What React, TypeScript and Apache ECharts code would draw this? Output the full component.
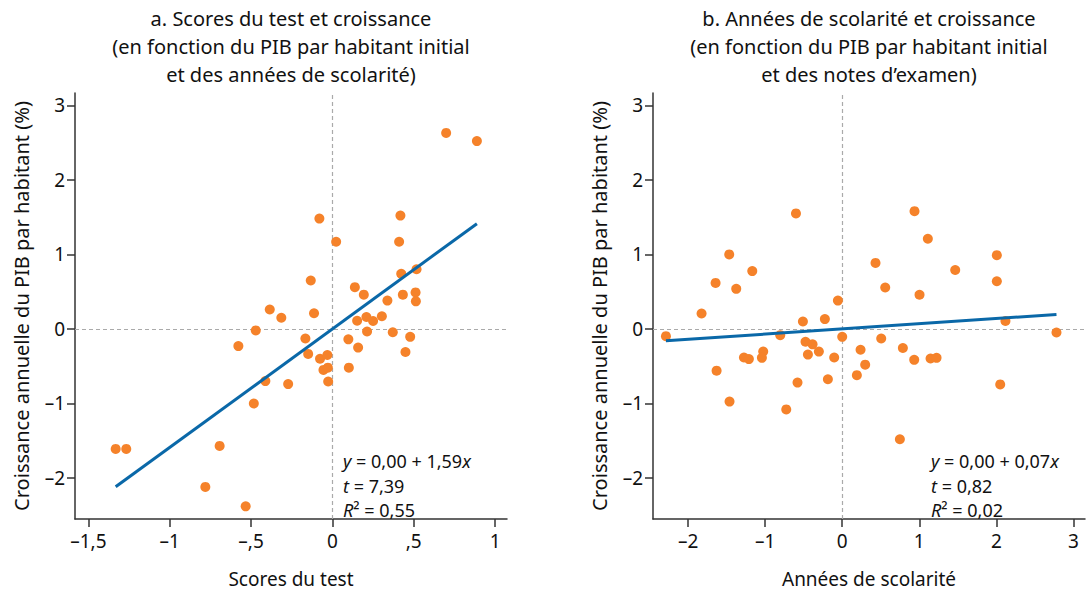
import React, { useEffect, useRef } from "react";
import * as echarts from "echarts";

// Panel a: test scores vs growth
const scoresX = [0.699, 0.888, -0.08, 0.418, 0.023, 0.41, 0.517, 0.423, -0.133, 0.138, 0.193, 0.511, 0.433, 0.513, 0.338, -0.385, -0.314, -0.113, 0.209, 0.152, 0.25, 0.304, -0.471, 0.213, 0.371, 0.478, -0.578, -0.166, 0.098, 0.158, 0.449, -0.149, -0.076, -0.031, -0.055, -0.028, 0.101, -0.026, -0.412, -0.272, -0.483, -1.332, -1.267, -0.693, -0.781, -0.533];
const scoresY = [2.63, 2.52, 1.48, 1.52, 1.17, 1.17, 0.8, 0.74, 0.65, 0.56, 0.46, 0.49, 0.46, 0.37, 0.38, 0.26, 0.15, 0.21, 0.16, 0.11, 0.106, 0.17, -0.02, -0.035, -0.045, -0.106, -0.23, -0.128, -0.14, -0.25, -0.31, -0.335, -0.4, -0.35, -0.55, -0.52, -0.52, -0.705, -0.7, -0.74, -1.0, -1.61, -1.61, -1.57, -2.12, -2.38];

// Panel b: years of schooling vs growth
const schoolX = [-0.6, 0.938, 1.111, -1.466, 2.006, 0.432, -1.167, 1.466, -1.643, -1.375, 0.558, 2.006, 1.003, -0.056, -1.825, -0.51, -0.225, 2.118, -2.287, -0.804, 0.0, 0.506, 2.78, -0.476, -0.385, 0.238, 0.787, -1.025, -0.303, -0.445, -1.275, -1.211, -1.042, -0.104, 0.934, 1.146, 1.224, 0.298, -1.63, 0.19, -0.186, -0.58, 2.05, -1.462, -0.726, 0.748];
const schoolY = [1.55, 1.58, 1.21, 1.0, 0.99, 0.886, 0.776, 0.79, 0.617, 0.538, 0.556, 0.64, 0.459, 0.38, 0.207, 0.1, 0.132, 0.106, -0.097, -0.084, -0.106, -0.128, -0.048, -0.172, -0.207, -0.28, -0.256, -0.304, -0.304, -0.344, -0.384, -0.405, -0.388, -0.384, -0.415, -0.397, -0.388, -0.48, -0.56, -0.62, -0.675, -0.72, -0.745, -0.975, -1.08, -1.48];

// Regression statistics
const intercepts = [0.0, 0.0];
const slopes = [1.59, 0.07];
const tStats = [7.39, 0.82];
const r2s = [0.55, 0.02];

// Ticks
const yTicks = [-2, -1, 0, 1, 2, 3];
const xTicksA = [-1.5, -1, -0.5, 0, 0.5, 1];
const xTicksB = [-2, -1, 0, 1, 2, 3];

const titlesA = ["a. Scores du test et croissance", "(en fonction du PIB par habitant initial", "et des années de scolarité)"];
const titlesB = ["b. Années de scolarité et croissance", "(en fonction du PIB par habitant initial", "et des notes d’examen)"];
const yName = "Croissance annuelle du PIB par habitant (%)";
const xNames = ["Scores du test", "Années de scolarité"];

const ORANGE = "#f5822a";
const BLUE = "#0a68a8";
const AXIS = "#333333";
const FONT = "'Noto Sans', sans-serif";
const TITLE_FONT = "'Liberation Sans Narrow', 'Noto Sans', sans-serif";
const ANNOT_SIZE = 18;

const fmtNum = (v: number, digits: number) => v.toFixed(digits).replace(".", ",");

const fmtTick = (v: number) => {
  if (Math.abs(v) < 1e-9) return "0";
  const a = Math.abs(v);
  let s = String(Number(a.toFixed(2))).replace(".", ",");
  if (s.startsWith("0,")) s = s.slice(1);
  return (v < 0 ? "\u2013" : "") + s;
};

let measureCtx: CanvasRenderingContext2D | null = null;
const measure = (text: string, font: string) => {
  if (!measureCtx) measureCtx = document.createElement("canvas").getContext("2d");
  if (!measureCtx) return text.length * 10;
  measureCtx.font = font;
  return measureCtx.measureText(text).width;
};

export default function App() {
  const ref = useRef<HTMLDivElement>(null);

  useEffect(() => {
    if (!ref.current) return;
    const chart = echarts.init(ref.current, null, { renderer: "svg" });

    const grids = [
      { left: 75, top: 93, width: 432, height: 432 },
      { left: 653, top: 93, width: 432, height: 432 },
    ];
    const xRanges = [
      [-1.582, 1.073],
      [-2.455, 3.15],
    ];
    const xTickSets = [xTicksA, xTicksB];
    const datasets = [
      [scoresX, scoresY],
      [schoolX, schoolY],
    ];

    const axisCommon = {
      axisLine: { show: true, onZero: false, lineStyle: { color: AXIS, width: 1.5 } },
      axisTick: { show: true, inside: false, length: 8, lineStyle: { color: AXIS, width: 1.5 } },
      splitLine: { show: false },
    };

    const xAxis = [0, 1].map((i) => ({
      type: "value",
      gridIndex: i,
      min: xRanges[i][0],
      max: xRanges[i][1],
      ...axisCommon,
      axisTick: { ...axisCommon.axisTick, customValues: xTickSets[i] },
      axisLabel: {
        customValues: xTickSets[i],
        formatter: fmtTick,
        color: "#111",
        fontSize: 19,
        fontFamily: FONT,
        margin: 12,
      },
      name: xNames[i],
      nameLocation: "middle",
      nameGap: 50,
      nameTextStyle: { color: "#111", fontSize: 19, fontFamily: FONT },
    }));

    const yAxis = [0, 1].map((i) => ({
      type: "value",
      gridIndex: i,
      min: -2.55,
      max: 3.165,
      ...axisCommon,
      axisTick: { ...axisCommon.axisTick, customValues: yTicks },
      axisLabel: {
        customValues: yTicks,
        formatter: fmtTick,
        color: "#111",
        fontSize: 19,
        fontFamily: FONT,
        margin: 10,
      },
      name: yName,
      nameLocation: "middle",
      nameGap: 44,
      nameTextStyle: { color: "#111", fontSize: 20, fontFamily: FONT },
    }));

    const series: any[] = [];
    [0, 1].forEach((i) => {
      const xs = datasets[i][0];
      const ys = datasets[i][1];
      series.push({
        type: "scatter",
        xAxisIndex: i,
        yAxisIndex: i,
        symbolSize: 10,
        itemStyle: { color: ORANGE, opacity: 1 },
        data: xs.map((x, k) => [x, ys[k]]),
        z: 3,
        markLine: {
          silent: true,
          symbol: "none",
          label: { show: false },
          lineStyle: { type: [4, 3], color: "#aaaaaa", width: 1.2 },
          data: [{ xAxis: 0 }, { yAxis: 0 }],
          z: 1,
        },
      });
      const xmin = Math.min(...xs);
      const xmax = Math.max(...xs);
      series.push({
        type: "line",
        xAxisIndex: i,
        yAxisIndex: i,
        symbol: "none",
        lineStyle: { color: BLUE, width: 3 },
        data: [
          [xmin, intercepts[i] + slopes[i] * xmin],
          [xmax, intercepts[i] + slopes[i] * xmax],
        ],
        z: 4,
      });
    });

    const titleCenters = [291, 869];
    const titleSets = [titlesA, titlesB];
    const annotLeft = [343, 931];
    const annotLineY = [461, 485.5, 510];

    const normalFont = `${ANNOT_SIZE}px ${FONT}`;
    const italicFont = `italic ${ANNOT_SIZE}px ${FONT}`;

    const graphic: any[] = [];
    [0, 1].forEach((i) => {
      titleSets[i].forEach((line, k) => {
        graphic.push({
          type: "text",
          x: titleCenters[i],
          y: 18 + k * 28,
          style: {
            text: line,
            font: `20px ${TITLE_FONT}`,
            fill: "#111",
            align: "center",
            verticalAlign: "middle",
          },
        });
      });
      // each line as a sequence of [text, italic] pieces
      const lines: [string, boolean][][] = [
        [["y", true], [` = ${fmtNum(intercepts[i], 2)} + ${fmtNum(slopes[i], 2)}`, false], ["x", true]],
        [["t", true], [` = ${fmtNum(tStats[i], 2)}`, false]],
        [["R", true], [`² = ${fmtNum(r2s[i], 2)}`, false]],
      ];
      lines.forEach((pieces, k) => {
        let cx = annotLeft[i];
        pieces.forEach(([txt, ital]) => {
          const font = ital ? italicFont : normalFont;
          graphic.push({
            type: "text",
            x: cx,
            y: annotLineY[k],
            z: 10,
            style: {
              text: txt,
              font,
              fill: "#111",
              verticalAlign: "middle",
            },
          });
          cx += measure(txt, font);
        });
      });
    });

    chart.setOption({
      animation: false,
      backgroundColor: "#ffffff",
      grid: grids,
      xAxis,
      yAxis,
      series,
      graphic,
    });

    return () => chart.dispose();
  }, []);

  return <div ref={ref} style={{ width: 1090, height: 593, position: "absolute", left: 0, top: 0 }} />;
}
